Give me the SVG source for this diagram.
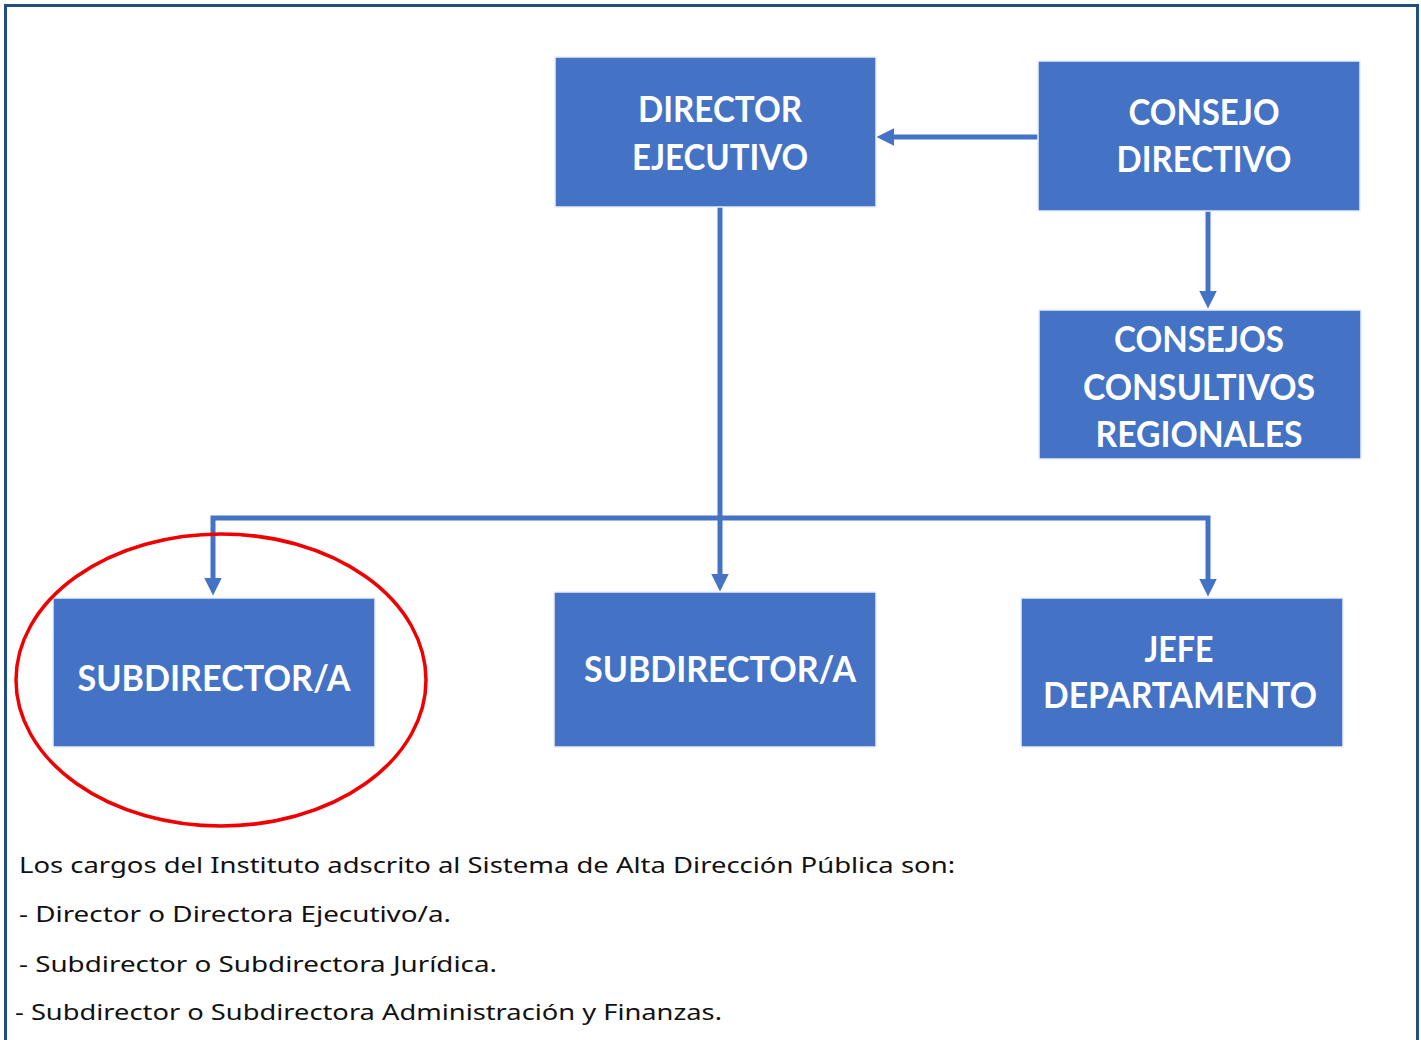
<svg xmlns="http://www.w3.org/2000/svg" width="1421" height="1040" viewBox="0 0 1421 1040">
<style>
.box{fill:#4472C4;stroke:#E9EEF7;stroke-width:1.5}
.lbl{font-family:Lato,"Open Sans","Liberation Sans",sans-serif;font-weight:bold;font-size:36px;fill:#FFFFFF;text-anchor:middle}
.conn{fill:none;stroke:#4472C4;stroke-width:5}
.note{font-family:"Noto Sans","DejaVu Sans",sans-serif;font-size:21px;fill:#111111}
</style>
<defs>
<marker id="arr" viewBox="0 0 10 10" refX="0" refY="5" markerWidth="3.5" markerHeight="3.5" markerUnits="strokeWidth" orient="auto-start-reverse">
<path d="M0,0 L10,5 L0,10 Z" fill="#4472C4"/>
</marker>
</defs>
<rect x="0" y="0" width="1421" height="1040" fill="#FFFFFF"/>
<path d="M5.5,1040 L5.5,5.5 L1417.5,5.5 L1417.5,1040" fill="none" stroke="#1F4E83" stroke-width="3"/>

<g id="connectors">
<line class="conn" x1="1038" y1="137" x2="894" y2="137" marker-end="url(#arr)"/>
<line class="conn" x1="1208" y1="211" x2="1208" y2="291" marker-end="url(#arr)"/>
<line class="conn" x1="720" y1="207" x2="720" y2="574" marker-end="url(#arr)"/>
<path class="conn" d="M213,578 L213,518 L1208,518 L1208,579" marker-start="url(#arr)" marker-end="url(#arr)"/>
</g>

<g id="director-ejecutivo">
<rect class="box" x="555" y="57" width="321" height="150"/>
<text class="lbl" x="720" y="122" textLength="164" lengthAdjust="spacingAndGlyphs">DIRECTOR</text>
<text class="lbl" x="720" y="170" textLength="176" lengthAdjust="spacingAndGlyphs">EJECUTIVO</text>
</g>

<g id="consejo-directivo">
<rect class="box" x="1038" y="61" width="322" height="150"/>
<text class="lbl" x="1204" y="125" textLength="151" lengthAdjust="spacingAndGlyphs">CONSEJO</text>
<text class="lbl" x="1204" y="172" textLength="175" lengthAdjust="spacingAndGlyphs">DIRECTIVO</text>
</g>

<g id="consejos-consultivos">
<rect class="box" x="1039" y="310" width="322" height="149"/>
<text class="lbl" x="1199" y="352" textLength="170" lengthAdjust="spacingAndGlyphs">CONSEJOS</text>
<text class="lbl" x="1199" y="400" textLength="232" lengthAdjust="spacingAndGlyphs">CONSULTIVOS</text>
<text class="lbl" x="1199" y="447" textLength="207" lengthAdjust="spacingAndGlyphs">REGIONALES</text>
</g>

<g id="subdirector-1">
<rect class="box" x="53" y="598" width="322" height="149"/>
<text class="lbl" x="214" y="691" textLength="273" lengthAdjust="spacingAndGlyphs">SUBDIRECTOR/A</text>
</g>

<g id="subdirector-2">
<rect class="box" x="554" y="592" width="322" height="155"/>
<text class="lbl" x="720" y="682" textLength="272" lengthAdjust="spacingAndGlyphs">SUBDIRECTOR/A</text>
</g>

<g id="jefe-departamento">
<rect class="box" x="1021" y="598" width="322" height="149"/>
<text class="lbl" x="1179" y="662" textLength="69" lengthAdjust="spacingAndGlyphs">JEFE</text>
<text class="lbl" x="1180" y="708" textLength="274" lengthAdjust="spacingAndGlyphs">DEPARTAMENTO</text>
</g>

<ellipse id="highlight" cx="221" cy="680" rx="205" ry="146" fill="none" stroke="#F00000" stroke-width="3.5"/>

<g id="notes">
<text class="note" x="19" y="873" textLength="936" lengthAdjust="spacingAndGlyphs">Los cargos del Instituto adscrito al Sistema de Alta Dirección Pública son:</text>
<text class="note" x="19" y="922" textLength="432" lengthAdjust="spacingAndGlyphs">- Director o Directora Ejecutivo/a.</text>
<text class="note" x="19" y="972" textLength="478" lengthAdjust="spacingAndGlyphs">- Subdirector o Subdirectora Jurídica.</text>
<text class="note" x="15" y="1020" textLength="707" lengthAdjust="spacingAndGlyphs">- Subdirector o Subdirectora Administración y Finanzas.</text>
</g>
</svg>
